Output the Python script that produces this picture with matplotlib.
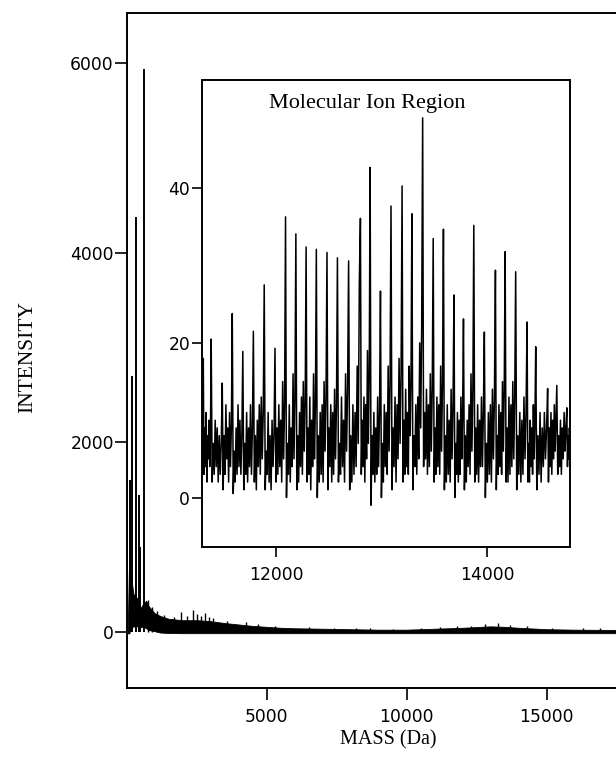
import matplotlib
matplotlib.use("Agg")
import matplotlib.pyplot as plt
import numpy as np

# ---------------- data: full spectrum ----------------
low_peak_mass = [110, 190, 335, 440, 470, 630]
low_peak_int = [1600, 2700, 4380, 1450, 900, 5940]

env_mass = [40, 60, 100, 150, 250, 400, 500, 600, 700, 800, 1000, 1200, 1500, 2000,
            2500, 3000, 3500, 4000, 4500, 5000, 5500, 6000, 7000, 8000, 9000, 10000,
            11000, 12000, 13000, 13500, 14000, 15000, 16000, 17500]
env_upper = [0, 250, 900, 600, 400, 350, 250, 300, 330, 270, 200, 170, 140, 125,
             125, 115, 95, 80, 65, 55, 45, 40, 35, 30, 25, 25,
             35, 45, 60, 55, 45, 30, 25, 22]
env_lower = [0, -15, -15, 40, 60, 60, 50, 60, 40, 20, 10, -5, -10, -12,
             -12, -12, -12, -12, -12, -12, -12, -12, -12, -12, -12, -12,
             -12, -12, -12, -12, -12, -12, -12, -12]

spike_mass = [755, 900, 1100, 1350, 1700, 1950, 2150, 2360, 2500, 2650, 2800, 2950,
              3100, 3600, 4260, 4700, 5300, 6500, 7400, 8200, 8700, 9500, 10500,
              11200, 11800, 12300, 12800, 13250, 13700, 14300, 15200, 16300, 16900]
spike_int = [340, 260, 220, 180, 160, 210, 170, 230, 190, 170, 200, 160,
             150, 120, 105, 80, 60, 50, 45, 45, 40, 35, 45,
             55, 60, 65, 80, 95, 70, 60, 40, 45, 45]

# ---------------- data: molecular ion region ----------------
inset_peak_mass = [11310, 11385, 11490, 11585, 11685, 11785, 11888, 11990, 12090, 12188,
                   12285, 12382, 12483, 12582, 12688, 12800, 12892, 12990, 13090, 13195,
                   13288, 13390, 13490, 13587, 13687, 13777, 13875, 13975, 14080, 14172,
                   14272, 14380, 14462, 14575, 14662, 14757]
inset_peak_int = [18, 20.5, 14.8, 23.8, 18.9, 21.5, 27.5, 19.3, 36.3, 34.1,
                  32.4, 32.1, 31.7, 31.0, 30.6, 36.1, 42.7, 26.7, 37.7, 40.3,
                  36.7, 49.1, 33.5, 34.7, 26.2, 23.1, 35.2, 21.4, 29.4, 31.8,
                  29.2, 22.7, 19.5, 14.1, 14.5, 11.6]
inset_between = [
    [3, 9, 4, 11, 2, 8, 5, 10, 4, 8],
    [2, 7, 3, 10, 4, 9, 2, 8, 3, 7],
    [1, 8, 3, 12, 5, 9, 2, 11, 4, 9],
    [0.5, 6, 2, 9, 3, 12, 4, 10, 3, 8],
    [1, 7, 3, 11, 2, 9, 4, 12, 3, 9],
    [2, 8, 1, 10, 4, 12, 3, 13, 5, 11],
    [1, 6, 3, 11, 2, 8, 1, 10, 4, 8],
    [2, 9, 3, 12, 4, 10, 2, 15, 5, 12],
    [0, 7, 3, 12, 2, 9, 4, 16, 5, 13],
    [1, 8, 2, 11, 4, 13, 3, 15, 6, 12],
    [2, 9, 3, 13, 1, 10, 4, 16, 5, 12],
    [0, 8, 2, 11, 3, 12, 2, 15, 6, 13],
    [1, 9, 4, 12, 2, 11, 3, 14, 5, 12],
    [2, 7, 3, 13, 4, 10, 2, 16, 6, 14],
    [1, 8, 2, 12, 3, 11, 4, 17, 7, 28],
    [3, 10, 4, 13, 2, 12, 5, 19, 7, 16],
    [-1, 8, 3, 11, 2, 9, 3, 13, 4, 11],
    [0, 7, 2, 12, 4, 11, 3, 17, 6, 15],
    [1, 9, 4, 13, 2, 12, 5, 18, 7, 16],
    [2, 10, 3, 14, 4, 11, 3, 17, 8, 15],
    [1, 8, 4, 12, 3, 13, 5, 20, 9, 22],
    [4, 11, 5, 14, 3, 12, 4, 16, 6, 14],
    [2, 9, 3, 13, 4, 12, 3, 17, 6, 15],
    [1, 8, 2, 12, 3, 10, 2, 14, 5, 12],
    [0, 7, 3, 11, 2, 10, 3, 13, 5, 11],
    [1, 8, 2, 10, 4, 12, 3, 16, 6, 14],
    [2, 9, 3, 12, 2, 10, 4, 13, 4, 11],
    [0, 7, 2, 11, 3, 12, 2, 14, 5, 13],
    [1, 8, 3, 12, 4, 11, 3, 15, 6, 14],
    [2, 9, 2, 13, 3, 12, 4, 15, 5, 13],
    [1, 8, 3, 11, 2, 10, 3, 13, 5, 11],
    [2, 7, 2, 10, 4, 9, 3, 12, 5, 10],
    [1, 8, 3, 11, 2, 9, 4, 11, 5, 9],
    [2, 9, 4, 11, 3, 10, 5, 12, 6, 10],
    [3, 8, 4, 10, 3, 9, 5, 11, 6, 9],
]
inset_lead = [6, 3]
inset_tail = [4, 8, 5, 9, 6]

outer_xticks = [5000, 10000, 15000]
outer_yticks = [0, 2000, 4000, 6000]
inset_xticks = [12000, 14000]
inset_yticks = [0, 20, 40]

# ---------------- build inset trace ----------------
tx, ty = [], []
for k, v in enumerate(inset_lead):
    tx.append(11298 + k * 6)
    ty.append(v)
for i in range(len(inset_peak_mass)):
    p = inset_peak_mass[i]
    tx.append(p)
    ty.append(inset_peak_int[i])
    if i < len(inset_between):
        q = inset_peak_mass[i + 1]
        vals = inset_between[i]
        n = len(vals)
        for k, v in enumerate(vals):
            tx.append(p + (k + 1) * (q - p) / (n + 1))
            ty.append(v)
for k, v in enumerate(inset_tail):
    tx.append(inset_peak_mass[-1] + (k + 1) * 6)
    ty.append(v)

# ---------------- figure ----------------
W, H = 616, 758
fig = plt.figure(figsize=(W / 100, H / 100), dpi=100)

tick_font = dict(family="DejaVu Sans", size=12.3)
serif = ["Liberation Serif", "DejaVu Serif"]

ax = fig.add_axes([127 / W, 70 / H, (W - 127) / W, 675 / H])
ax.fill_between(env_mass, env_lower, env_upper, color="black", lw=0.6)
ax.vlines(spike_mass, 0, spike_int, color="black", lw=1.0)
ax.vlines(low_peak_mass, 0, low_peak_int, color="black", lw=1.4)
ax.set_xlim(18, 17480)
ax.set_ylim(-590, 6527)
ax.set_xticks(outer_xticks)
ax.set_yticks(outer_yticks)
ax.spines["right"].set_visible(False)
for s in ["left", "top", "bottom"]:
    ax.spines[s].set_linewidth(1.4)
ax.tick_params(axis="both", direction="out", length=8.5, width=1.2, color="black")
ax.tick_params(axis="y", pad=1)
ax.tick_params(axis="x", pad=6)
for lab in ax.get_xticklabels() + ax.get_yticklabels():
    lab.set_fontfamily(tick_font["family"])
    lab.set_fontsize(tick_font["size"])

axi = fig.add_axes([202 / W, 211 / H, 368 / W, 467 / H])
axi.plot(tx, ty, color="black", lw=1.1)
axi.set_xlim(11298, 14787)
axi.set_ylim(-6.4, 54)
axi.set_xticks(inset_xticks)
axi.set_yticks(inset_yticks)
for s in axi.spines.values():
    s.set_linewidth(1.4)
axi.tick_params(axis="both", direction="out", length=7.5, width=1.2, color="black")
axi.tick_params(axis="y", pad=1)
axi.tick_params(axis="x", pad=6)
for lab in axi.get_xticklabels() + axi.get_yticklabels():
    lab.set_fontfamily(tick_font["family"])
    lab.set_fontsize(tick_font["size"])
axi.text(0.45, 0.95, "Molecular Ion Region", transform=axi.transAxes,
         ha="center", va="center", family=serif, fontsize=16)

fig.text(28 / W, 1 - 357 / H, "INTENSITY", rotation=90, ha="center", va="center",
         family=serif, fontsize=15.5)
fig.text(388 / W, 1 - 740 / H, "MASS (Da)", ha="center", va="center",
         family=serif, fontsize=14.5)

fig.savefig("out.png", dpi=100)
